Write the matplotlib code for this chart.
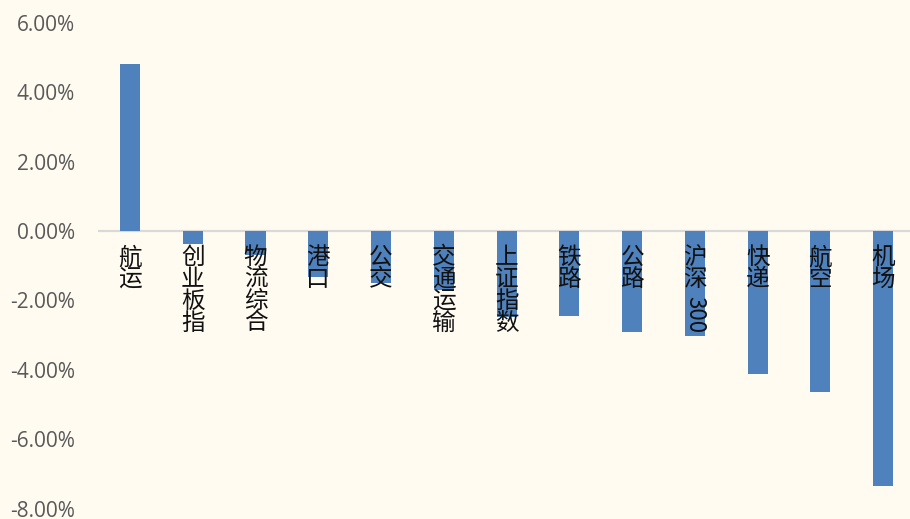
import matplotlib
matplotlib.use("Agg")
import matplotlib.pyplot as plt
from matplotlib.ticker import FuncFormatter

categories = ["航运", "创业板指", "物流综合", "港口", "公交", "交通运输", "上证指数",
              "铁路", "公路", "沪深300", "快递", "航空", "机场"]
values = [4.81, -0.37, -0.68, -1.33, -1.50, -1.70, -2.47,
          -2.45, -2.91, -3.03, -4.12, -4.64, -7.35]
yticks = [-8, -6, -4, -2, 0, 2, 4, 6]

bg = "#fffbf0"
fig = plt.figure(figsize=(9.10, 5.19), dpi=100, facecolor=bg)
ax = fig.add_axes([98.6 / 910, 1 - 508.6 / 519, 816 / 910, (508.6 - 22.8) / 519])
ax.set_facecolor(bg)

x = list(range(len(categories)))
ax.bar(x, values, width=0.32, color="#4f81bd", zorder=1)

ax.set_xlim(-0.5, len(categories) - 0.5)
ax.set_ylim(-8, 6)
ax.set_yticks(yticks)
ax.yaxis.set_major_formatter(FuncFormatter(lambda v, p: f"{v:.2f}%"))
for s in ["top", "right", "left"]:
    ax.spines[s].set_visible(False)
ax.spines["bottom"].set_position(("data", 0))
ax.spines["bottom"].set_color("#d9d9d9")
ax.spines["bottom"].set_linewidth(1.6)
ax.spines["bottom"].set_zorder(0.5)
ax.xaxis.set_zorder(5)

ax.tick_params(axis="y", length=0, pad=17, labelsize=15, labelcolor="#595959")
for lab in ax.get_yticklabels():
    lab.set_family(["Open Sans", "DejaVu Sans"])

ax.tick_params(axis="x", length=0, pad=11)
labels = []
for c in categories:
    if c == "沪深300":
        labels.append("沪\n深")
    else:
        labels.append("\n".join(list(c)))
ax.set_xticks(x)
ax.set_xticklabels(labels, fontsize=17, color="#111111",
                   family=["Noto Sans CJK SC", "DejaVu Sans"], linespacing=0.93)

i = categories.index("沪深300")
ax.annotate("300", xy=(i, 0), xytext=(0, -47), textcoords="offset points",
            rotation=-90, ha="center", va="top", fontsize=16, color="#111111",
            family=["Noto Sans CJK SC", "DejaVu Sans"], annotation_clip=False,
            zorder=6)

fig.savefig("out.png", dpi=100, facecolor=bg)
